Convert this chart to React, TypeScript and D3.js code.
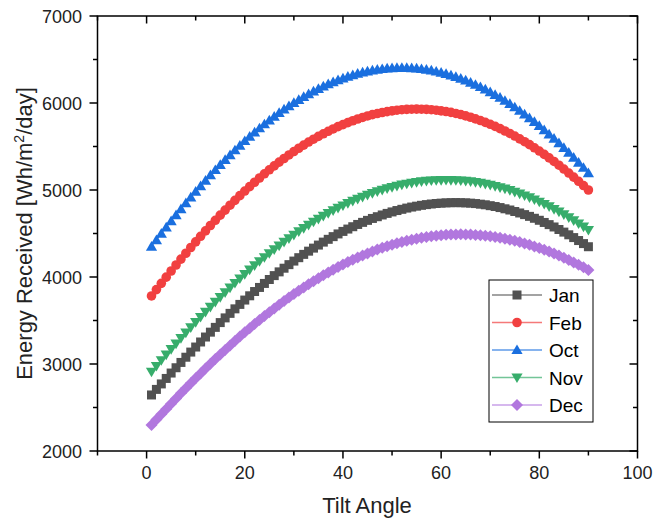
import React, { useEffect, useRef } from 'react';
import * as d3 from 'd3';

// tilt angles 1..90 degrees
const tiltAngles = d3.range(1, 91);

const janValues = [
  2644, 2708, 2771, 2834, 2896, 2957, 3018, 3078, 3137, 3195,
  3253, 3310, 3366, 3421, 3476, 3530, 3582, 3634, 3685, 3735,
  3784, 3833, 3880, 3926, 3971, 4016, 4059, 4101, 4142, 4183,
  4222, 4260, 4297, 4332, 4367, 4401, 4433, 4464, 4495, 4524,
  4551, 4578, 4604, 4628, 4651, 4673, 4693, 4713, 4731, 4748,
  4764, 4778, 4792, 4804, 4814, 4824, 4832, 4839, 4845, 4849,
  4852, 4854, 4855, 4854, 4852, 4849, 4844, 4837, 4830, 4820,
  4810, 4798, 4784, 4770, 4753, 4736, 4717, 4697, 4675, 4652,
  4627, 4602, 4575, 4546, 4516, 4485, 4453, 4419, 4384, 4348,
];

const febValues = [
  3782, 3855, 3927, 3998, 4069, 4138, 4206, 4273, 4339, 4404,
  4468, 4530, 4592, 4652, 4711, 4769, 4825, 4881, 4935, 4988,
  5039, 5089, 5138, 5186, 5232, 5277, 5320, 5362, 5403, 5442,
  5480, 5516, 5551, 5584, 5616, 5646, 5675, 5702, 5728, 5752,
  5775, 5796, 5816, 5834, 5851, 5866, 5879, 5891, 5901, 5910,
  5917, 5923, 5927, 5929, 5930, 5929, 5927, 5923, 5917, 5910,
  5902, 5892, 5880, 5867, 5852, 5836, 5818, 5798, 5777, 5755,
  5731, 5705, 5678, 5650, 5620, 5588, 5555, 5521, 5485, 5448,
  5409, 5369, 5328, 5285, 5241, 5195, 5148, 5100, 5051, 5000,
];

const octValues = [
  4350, 4425, 4498, 4571, 4642, 4712, 4781, 4849, 4916, 4981,
  5045, 5108, 5170, 5230, 5289, 5346, 5402, 5457, 5511, 5563,
  5613, 5662, 5710, 5756, 5801, 5844, 5886, 5926, 5964, 6001,
  6037, 6071, 6103, 6134, 6163, 6190, 6216, 6240, 6263, 6284,
  6303, 6321, 6337, 6351, 6364, 6375, 6384, 6391, 6397, 6402,
  6404, 6405, 6404, 6402, 6397, 6391, 6383, 6374, 6362, 6349,
  6335, 6318, 6300, 6280, 6259, 6235, 6210, 6184, 6156, 6126,
  6094, 6061, 6026, 5989, 5951, 5911, 5870, 5827, 5783, 5737,
  5689, 5640, 5590, 5538, 5484, 5429, 5373, 5315, 5256, 5195,
];

const novValues = [
  2911, 2977, 3043, 3108, 3172, 3235, 3298, 3360, 3421, 3481,
  3540, 3599, 3657, 3713, 3769, 3824, 3878, 3931, 3983, 4034,
  4084, 4133, 4181, 4227, 4273, 4318, 4361, 4404, 4445, 4485,
  4524, 4562, 4599, 4635, 4669, 4702, 4734, 4765, 4794, 4822,
  4849, 4875, 4899, 4922, 4944, 4965, 4984, 5002, 5019, 5034,
  5048, 5061, 5072, 5082, 5091, 5098, 5104, 5109, 5112, 5114,
  5115, 5114, 5112, 5109, 5104, 5098, 5090, 5081, 5070, 5059,
  5045, 5031, 5015, 4998, 4979, 4959, 4937, 4915, 4891, 4865,
  4839, 4811, 4781, 4751, 4719, 4685, 4651, 4615, 4578, 4540,
];

const decValues = [
  2299, 2361, 2423, 2484, 2544, 2604, 2663, 2721, 2779, 2836,
  2892, 2948, 3003, 3057, 3110, 3162, 3214, 3265, 3315, 3364,
  3412, 3459, 3506, 3551, 3596, 3639, 3682, 3724, 3764, 3804,
  3843, 3880, 3917, 3952, 3987, 4020, 4053, 4084, 4114, 4143,
  4171, 4198, 4223, 4248, 4271, 4294, 4315, 4335, 4353, 4371,
  4387, 4402, 4416, 4429, 4441, 4451, 4460, 4468, 4475, 4480,
  4485, 4488, 4489, 4490, 4489, 4488, 4484, 4480, 4475, 4468,
  4460, 4451, 4440, 4428, 4416, 4402, 4386, 4370, 4352, 4333,
  4313, 4292, 4269, 4246, 4221, 4195, 4168, 4140, 4111, 4080,
];

const seriesNames = ['Jan', 'Feb', 'Oct', 'Nov', 'Dec'];
const seriesValues = [janValues, febValues, octValues, novValues, decValues];
const seriesColors = ['#515151', '#F14040', '#1A6FDF', '#37AD6B', '#B177DE'];
const seriesMarkers = ['square', 'circle', 'triangleUp', 'triangleDown', 'diamond'];

const xTicks = [0, 20, 40, 60, 80, 100];
const yTicks = [2000, 3000, 4000, 5000, 6000, 7000];

const FONT = "Arial, 'Liberation Sans', sans-serif";

function markerPath(kind) {
  switch (kind) {
    case 'square':
      return 'M-4.5,-4.5H4.5V4.5H-4.5Z';
    case 'circle':
      return 'M4.8,0A4.8,4.8 0 1,1 -4.8,0A4.8,4.8 0 1,1 4.8,0Z';
    case 'triangleUp':
      return 'M0,-5.6L5.6,4.1L-5.6,4.1Z';
    case 'triangleDown':
      return 'M0,5.6L5.6,-4.1L-5.6,-4.1Z';
    default:
      return 'M0,-6L6,0L0,6L-6,0Z';
  }
}

const App = () => {
  const ref = useRef(null);

  useEffect(() => {
    const svg = d3.select(ref.current);
    svg.selectAll('*').remove();

    const left = 97.5, right = 637.5, top = 16, bottom = 451;

    const x = d3.scaleLinear().domain([-10, 100]).range([left, right]);
    const y = d3.scaleLinear().domain([2000, 7000]).range([bottom, top]);

    const xMinor = d3.range(-10, 101, 10).filter(v => !xTicks.includes(v));
    const yMinor = d3.range(2500, 7000, 1000);

    // series: line then markers
    seriesValues.forEach((vals, si) => {
      const pts = tiltAngles.map((a, i) => [a, vals[i]]);
      svg.append('path')
        .attr('d', d3.line().x(d => x(d[0])).y(d => y(d[1]))(pts))
        .attr('fill', 'none')
        .attr('stroke', seriesColors[si])
        .attr('stroke-width', 1);
      svg.append('g')
        .selectAll('path')
        .data(pts)
        .enter()
        .append('path')
        .attr('d', markerPath(seriesMarkers[si]))
        .attr('transform', d => `translate(${x(d[0])},${y(d[1])})`)
        .attr('fill', seriesColors[si]);
    });

    // frame
    svg.append('rect')
      .attr('x', left).attr('y', top)
      .attr('width', right - left).attr('height', bottom - top)
      .attr('fill', 'none').attr('stroke', '#000').attr('stroke-width', 1.5);

    const ticks = svg.append('g').attr('stroke', '#000').attr('stroke-width', 1.5);
    // bottom (out) and top (in)
    xTicks.concat(xMinor).forEach(v => {
      const len = xTicks.includes(v) ? 7.5 : 4.5;
      ticks.append('line').attr('x1', x(v)).attr('x2', x(v)).attr('y1', bottom).attr('y2', bottom + len);
      ticks.append('line').attr('x1', x(v)).attr('x2', x(v)).attr('y1', top).attr('y2', top + len);
    });
    // left (out) and right (in)
    yTicks.concat(yMinor).forEach(v => {
      const len = yTicks.includes(v) ? 8 : 4.5;
      ticks.append('line').attr('x1', left).attr('x2', left - len).attr('y1', y(v)).attr('y2', y(v));
      ticks.append('line').attr('x1', right).attr('x2', right - len).attr('y1', y(v)).attr('y2', y(v));
    });

    svg.append('g')
      .selectAll('text')
      .data(xTicks)
      .enter()
      .append('text')
      .attr('x', d => x(d))
      .attr('y', 479)
      .attr('text-anchor', 'middle')
      .attr('font-family', FONT)
      .attr('font-size', 18)
      .attr('fill', '#222')
      .text(d => d);

    svg.append('g')
      .selectAll('text')
      .data(yTicks)
      .enter()
      .append('text')
      .attr('x', 82)
      .attr('y', d => y(d) + 6.5)
      .attr('text-anchor', 'end')
      .attr('font-family', FONT)
      .attr('font-size', 18)
      .attr('fill', '#222')
      .text(d => d);

    svg.append('text')
      .attr('x', 367)
      .attr('y', 513)
      .attr('text-anchor', 'middle')
      .attr('font-family', FONT)
      .attr('font-size', 22)
      .attr('fill', '#222')
      .text('Tilt Angle');

    const yTitle = svg.append('text')
      .attr('transform', `translate(32,${(top + bottom) / 2}) rotate(-90)`)
      .attr('text-anchor', 'middle')
      .attr('font-family', FONT)
      .attr('font-size', 22)
      .attr('fill', '#222');
    yTitle.append('tspan').text('Energy Received [Wh/m');
    yTitle.append('tspan').attr('dy', -8).attr('font-size', 14).text('2');
    yTitle.append('tspan').attr('dy', 8).text('/day]');

    // legend
    const legend = svg.append('g');
    legend.append('rect')
      .attr('x', 489).attr('y', 280)
      .attr('width', 104).attr('height', 142)
      .attr('fill', '#fff').attr('stroke', '#000').attr('stroke-width', 1);
    seriesNames.forEach((name, si) => {
      const ly = 295 + si * 27.5;
      legend.append('line')
        .attr('x1', 492).attr('x2', 542).attr('y1', ly).attr('y2', ly)
        .attr('stroke', seriesColors[si]).attr('stroke-opacity', 0.7).attr('stroke-width', 1.5);
      legend.append('path')
        .attr('d', markerPath(seriesMarkers[si]))
        .attr('transform', `translate(517,${ly})`)
        .attr('fill', seriesColors[si]);
      legend.append('text')
        .attr('x', 549).attr('y', ly + 7)
        .attr('font-family', FONT)
        .attr('font-size', 19)
        .attr('fill', '#000')
        .text(name);
    });
  }, []);

  return (
    <svg ref={ref} width={656} height={522}
      style={{ position: 'absolute', left: 0, top: 0, background: '#fff' }} />
  );
};

export default App;
